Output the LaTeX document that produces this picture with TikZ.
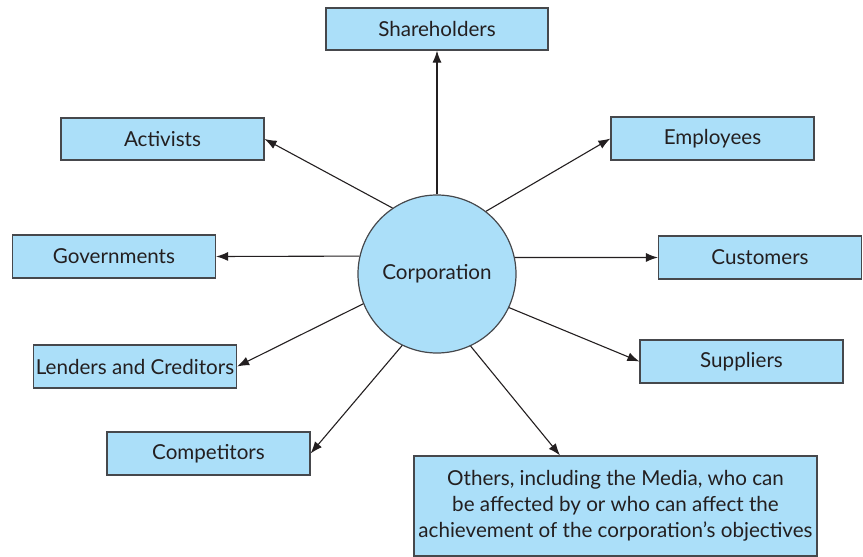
\documentclass[tikz,border=0pt]{standalone}
\usepackage{fontspec}
\setmainfont{Lato}
\usetikzlibrary{arrows.meta,calc}
\definecolor{boxfill}{RGB}{171,223,249}
\definecolor{boxline}{RGB}{70,72,76}
\definecolor{txt}{RGB}{35,31,32}
\tikzset{
  stake/.style={draw=boxline,fill=boxfill,line width=1.2pt,minimum width=203pt,minimum height=43pt,inner sep=0pt,text=txt,font=\fontsize{20.6}{26}\selectfont,align=center},
  corp/.style={circle,draw=boxline,fill=boxfill,line width=1.2pt,minimum size=158pt,inner sep=0pt,text=txt,font=\fontsize{20.6}{26}\selectfont},
  arr/.style={-{Latex[length=12pt,width=9pt]},line width=1.1pt,draw=txt}
}
\begin{document}
\begin{tikzpicture}[x=1pt,y=-1pt]
\useasboundingbox (0,0) rectangle (863,557);
\node[corp] (c) at (437,274) {Corporation};
\node[stake,minimum width=222pt,minimum height=42pt] (sh) at (437,29) {Shareholders};
\node[stake,minimum height=42pt] (act) at (162.5,139) {Activists};
\node[stake] (emp) at (712.5,138.5) {Employees};
\node[stake] (gov) at (114,256.5) {Governments};
\node[stake] (cus) at (760,257.5) {Customers};
\node[stake] (len) at (135,366.5) {Lenders and Creditors};
\node[stake] (sup) at (741.5,361.5) {Suppliers};
\node[stake] (comp) at (208.5,453.5) {Competitors};
\node[stake,minimum width=403pt,minimum height=100pt] (oth) at (615.5,506) {Others, including the Media, who can\\be affected by or who can affect the\\achievement of the corporation’s objectives};
\draw[arr] (c.90) -- (sh.south);
\draw[arr] (c.124.7) -- (act.east);
\draw[arr] (c.52.7) -- (emp.west);
\draw[arr] (c.167.9) -- (gov.east);
\draw[arr] (c.12.1) -- (cus.west);
\draw[arr] (c.202.7) -- (len.east);
\draw[arr] (c.-25.9) -- (sup.west);
\draw[arr] (c.244.4) -- (comp.east);
\draw[arr] (c.295.6) -- ([xshift=-55.5pt]oth.north);
\end{tikzpicture}
\end{document}
